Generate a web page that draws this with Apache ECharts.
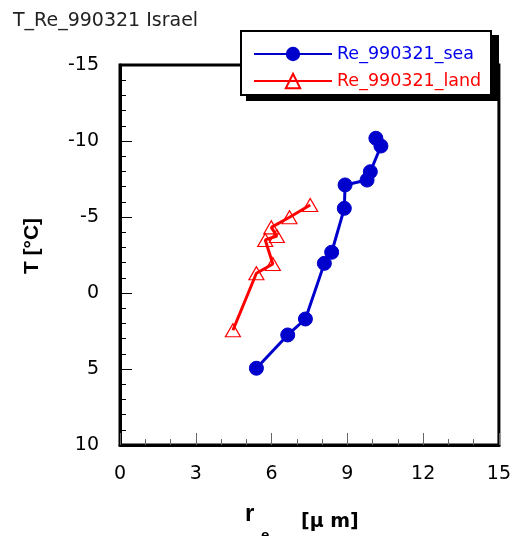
<!DOCTYPE html>
<html>
<head>
<meta charset="utf-8">
<script src="https://cdn.jsdelivr.net/npm/echarts@6/dist/echarts.min.js"></script>
<style>
  html, body { margin: 0; padding: 0; background: #fff; }
  #chart { width: 514px; height: 536px; }
</style>
</head>
<body>
<div id="chart"></div>
<script>
// Effective radius (µm) vs. cloud-top temperature (°C), Israel 990321
const seaRe    = [5.40, 6.64, 7.34, 8.09, 8.38, 8.88, 8.91, 9.78, 9.91, 10.33, 10.13];
const seaT     = [4.95, 2.76, 1.71, -1.95, -2.68, -5.57, -7.11, -7.43, -7.98, -9.67, -10.18];
const landRe   = [4.47, 5.40, 6.05, 5.75, 6.21, 5.99, 6.71, 7.53];
const landT    = [2.45, -1.30, -1.91, -3.49, -3.75, -4.32, -4.98, -5.79];
const seriesNames = ['Re_990321_sea', 'Re_990321_land'];
const xTicks = { min: 0, max: 15, step: 3 };
const yTicks = { min: -15, max: 10, step: 5 };

const pairs = (xs, ys) => xs.map((x, i) => [x, ys[i]]);

const BLUE = '#0000cc';
const RED = '#ff0000';
const FONT = '"DejaVu Sans", sans-serif';
const BOLD_SANS = '"Liberation Sans", Arial, sans-serif';

const chart = echarts.init(document.getElementById('chart'), null, { renderer: 'canvas' });

chart.setOption({
  animation: false,
  backgroundColor: '#fff',
  title: {
    text: 'T_Re_990321 Israel',
    left: 8,
    top: 7,
    textStyle: { fontFamily: FONT, fontSize: 19, fontWeight: 'normal', color: '#222' }
  },
  grid: {
    left: 120, right: 14, top: 65, bottom: 91,
    show: true, borderColor: '#000', borderWidth: 3, backgroundColor: 'transparent'
  },
  legend: {
    orient: 'vertical',
    left: 238, top: 30,
    padding: [15, 12, 9, 15],
    itemWidth: 78, itemHeight: 18, itemGap: 9,
    z: 10,
    data: [
      { name: seriesNames[0], textStyle: { color: '#0000ee' } },
      { name: seriesNames[1], textStyle: { color: '#ff0000' } }
    ],
    textStyle: { fontFamily: FONT, fontSize: 17.5 }
  },
  xAxis: {
    type: 'value',
    min: xTicks.min, max: xTicks.max, interval: xTicks.step,
    axisLine: { onZero: false, lineStyle: { color: '#000', width: 3 } },
    axisTick: { show: true, inside: true, length: 12, lineStyle: { color: '#666', width: 1 } },
    minorTick: { show: true, splitNumber: 3, length: 6, lineStyle: { color: '#666', width: 1 } },
    splitLine: { show: false },
    axisLabel: { margin: 20, fontFamily: FONT, fontSize: 19, color: '#000' }
  },
  yAxis: {
    type: 'value',
    inverse: true,
    min: yTicks.min, max: yTicks.max, interval: yTicks.step,
    axisLine: { show: true, onZero: false, lineStyle: { color: '#000', width: 3 } },
    axisTick: { show: true, inside: true, length: 12, lineStyle: { color: '#000', width: 1 } },
    minorTick: { show: true, splitNumber: 5, length: 6, lineStyle: { color: '#000', width: 1 } },
    splitLine: { show: false },
    axisLabel: { margin: 21, fontFamily: FONT, fontSize: 19, color: '#000' }
  },
  series: [
    {
      name: seriesNames[0],
      type: 'line',
      data: pairs(seaRe, seaT),
      symbol: 'circle',
      symbolSize: 14,
      lineStyle: { color: BLUE, width: 3 },
      itemStyle: { color: BLUE, borderColor: BLUE },
      z: 3
    },
    {
      name: seriesNames[1],
      type: 'line',
      data: pairs(landRe, landT),
      symbol: 'triangle',
      symbolSize: [15, 13],
      lineStyle: { color: RED, width: 3 },
      itemStyle: { color: 'rgba(255,255,255,0)', borderColor: RED, borderWidth: 1.2 },
      z: 3
    }
  ],
  graphic: [
    // legend frame with a solid drop shadow
    {
      type: 'rect', z: 5,
      shape: { x: 246, y: 35, width: 253, height: 66 },
      style: { fill: '#000' }
    },
    {
      type: 'rect', z: 6,
      shape: { x: 241, y: 31, width: 250, height: 64 },
      style: { fill: '#fff', stroke: '#000', lineWidth: 2 }
    },
    // axis titles
    {
      type: 'text', x: 32, y: 246, rotation: Math.PI / 2,
      style: { text: 'T [°C]', fill: '#000', align: 'center', verticalAlign: 'middle',
               fontFamily: BOLD_SANS, fontWeight: 'bold', fontSize: 21 }
    },
    {
      type: 'text', x: 245, y: 514,
      style: { text: 'r', fill: '#000', align: 'left', verticalAlign: 'middle',
               fontFamily: BOLD_SANS, fontWeight: 'bold', fontSize: 24 }
    },
    {
      type: 'text', x: 261, y: 536,
      style: { text: 'e', fill: '#000', align: 'left', verticalAlign: 'middle',
               fontFamily: BOLD_SANS, fontWeight: 'bold', fontSize: 15 }
    },
    {
      type: 'text', x: 301, y: 522,
      style: { text: '[μ m]', fill: '#000', align: 'left', verticalAlign: 'middle',
               fontFamily: FONT, fontWeight: 'bold', fontSize: 19 }
    }
  ]
});
</script>
</body>
</html>
